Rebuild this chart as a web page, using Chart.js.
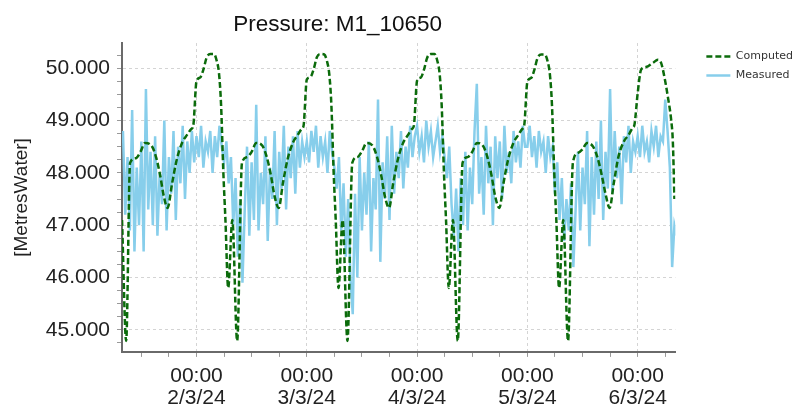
<!DOCTYPE html>
<html>
<head>
<meta charset="utf-8">
<title>Pressure: M1_10650</title>
<script src="https://cdn.jsdelivr.net/npm/chart.js@4.4.1/dist/chart.umd.min.js"></script>
<style>
  html, body { margin: 0; padding: 0; background: #fff; }
  .chart-container { position: relative; width: 803px; height: 407px; }
</style>
</head>
<body>
<div class="chart-container">
  <canvas id="pressureChart"></canvas>
</div>
<script>
const chartTitle = 'Pressure: M1_10650';
const yAxisTitle = '[MetresWater]';
const seriesNames = ['Computed', 'Measured'];

// x values are hours since 1/3/24 00:00
const tickTimeLabel = '00:00';
const tickDayLabels = ['1/3/24', '2/3/24', '3/3/24', '4/3/24', '5/3/24', '6/3/24'];

// Computed (model) pressure
const computedHours = [
  7.8, 8.7, 9.55, 10.8, 11.8, 12.8, 14.2, 15.2, 16.1, 16.9, 17.7, 18.7, 19.7, 20.9, 21.9, 22.9, 23.3,
  24.0, 24.8, 25.5, 26.2, 27.0, 27.8, 28.4, 28.9, 29.35, 29.85, 30.3, 30.9, 31.8, 32.85, 33.9, 35.0, 36.0, 37.0, 38.3, 39.3, 40.2, 41.0, 41.9, 42.8, 43.8, 45.0, 46.0, 46.9, 47.3,
  48.0, 48.8, 49.5, 50.2, 51.0, 51.8, 52.4, 52.9, 53.35, 53.85, 54.3, 54.9, 55.8, 56.85, 57.9, 59.0, 60.0, 61.0, 62.3, 63.3, 64.2, 65.0, 65.9, 66.8, 67.8, 69.0, 70.0, 70.9, 71.3,
  72.0, 72.8, 73.5, 74.2, 75.0, 75.8, 76.4, 76.9, 77.35, 77.85, 78.3, 78.9, 79.8, 80.85, 81.9, 83.0, 84.0, 85.0, 86.3, 87.3, 88.2, 89.0, 89.9, 90.8, 91.8, 93.0, 94.0, 94.9, 95.3,
  96.0, 96.8, 97.5, 98.2, 99.0, 99.8, 100.4, 100.9, 101.35, 101.85, 102.3, 102.9, 103.8, 104.85, 105.9, 107.0, 108.0, 109.0, 110.3, 111.3, 112.2, 113.0, 113.9, 114.8, 115.8, 117.0, 118.0, 118.9, 119.3,
  120.0, 120.75, 121.8, 123.3, 124.4, 125.1, 125.8, 126.55, 127.3, 127.65, 128.0
];
const computedValues = [
  47.10, 44.79, 48.19, 48.28, 48.40, 48.57, 48.52, 48.30, 47.95, 47.55, 47.33, 47.80, 48.25, 48.58, 48.72, 48.84, 48.90,
  49.75, 49.82, 49.97, 50.20, 50.27, 50.27, 50.14, 49.90, 49.30, 48.00, 47.10, 45.80, 47.10, 44.79, 48.19, 48.30, 48.40, 48.57, 48.52, 48.30, 47.95, 47.55, 47.33, 47.80, 48.25, 48.58, 48.72, 48.84, 48.90,
  49.78, 49.83, 49.98, 50.21, 50.27, 50.26, 50.13, 49.88, 49.30, 48.00, 47.10, 45.80, 47.10, 44.79, 48.19, 48.30, 48.41, 48.57, 48.52, 48.30, 47.95, 47.55, 47.33, 47.80, 48.25, 48.58, 48.72, 48.84, 48.90,
  49.76, 49.82, 49.97, 50.20, 50.27, 50.27, 50.14, 49.90, 49.30, 48.00, 47.10, 45.80, 47.10, 44.79, 48.19, 48.30, 48.40, 48.57, 48.52, 48.30, 47.95, 47.55, 47.33, 47.80, 48.25, 48.58, 48.72, 48.84, 48.90,
  49.74, 49.81, 49.96, 50.19, 50.26, 50.26, 50.13, 49.88, 49.30, 48.00, 47.10, 45.80, 47.10, 44.79, 48.19, 48.38, 48.45, 48.57, 48.50, 48.28, 47.95, 47.60, 47.33, 47.80, 48.30, 48.60, 48.72, 48.86, 48.92,
  49.52, 49.97, 50.02, 50.10, 50.16, 50.10, 49.84, 49.46, 49.00, 48.60, 47.50
];

// Measured pressure, one value every 30 minutes from 1/3/24 08:00
const measuredStartHour = 8;
const measuredStepHours = 0.5;
const measuredValues = [
  // 1/3/24 08:00 - 23:30
  48.8, 47.2, 48.3, 46.9, 49.2, 46.5, 48.1, 47.0, 48.6, 46.5, 49.6, 47.3,
  48.4, 47.0, 48.7, 46.8, 48.0, 47.4, 49.0, 46.9, 48.3, 47.6, 48.8, 47.1,
  48.5, 47.8, 48.9, 47.5, 48.6, 48.0, 48.8, 48.2,
  // 2/3/24
  48.7, 48.3, 48.9, 48.1, 48.6, 48.4, 48.8, 48.0, 48.7, 48.3, 48.9, 48.5,
  48.2, 48.6, 47.8, 48.3, 47.0, 47.9, 46.4, 47.5, 45.9, 47.3, 48.5, 46.8,
  48.2, 47.1, 49.3, 46.9, 48.0, 47.4, 48.7, 46.7, 48.1, 47.5, 48.8, 47.0,
  48.4, 47.7, 48.9, 47.3, 48.5, 47.9, 48.7, 47.6, 48.8, 48.1, 48.6, 48.3,
  // 3/3/24
  48.6, 48.2, 48.8, 48.4, 48.9, 48.1, 48.7, 48.3, 48.6, 48.0, 48.8, 48.4,
  48.1, 47.7, 48.3, 46.9, 47.8, 46.4, 47.5, 46.0, 45.3, 47.6, 46.0, 48.3,
  46.9, 48.0, 47.2, 48.6, 46.5, 47.9, 47.3, 49.4, 46.3, 48.2, 47.5, 48.7,
  47.1, 48.9, 47.6, 48.4, 47.9, 48.8, 47.7, 48.5, 48.1, 48.9, 48.3, 48.7,
  // 4/3/24
  48.9, 48.4, 48.7, 48.2, 49.0, 48.5, 48.8, 48.3, 48.6, 48.9, 48.4, 48.7,
  48.3, 47.9, 48.5, 47.4, 46.8, 47.7, 46.5, 47.9, 47.0, 48.4, 46.9, 48.1,
  47.4, 48.8, 49.7, 47.6, 48.3, 47.2, 48.9, 47.8, 48.5, 47.0, 48.7, 47.9,
  48.6, 47.5, 48.9, 48.0, 48.4, 47.8, 48.8, 48.2, 48.6, 48.1, 48.9, 48.5,
  // 5/3/24
  48.5, 48.9, 48.3, 48.7, 48.1, 48.8, 48.4, 48.6, 48.0, 48.7, 48.3, 48.5,
  47.6, 48.2, 47.1, 47.9, 46.7, 47.5, 46.9, 47.8, 46.2, 47.3, 48.4, 46.9,
  48.1, 47.4, 48.8, 46.6, 48.3, 47.2, 48.6, 47.5, 49.0, 47.1, 48.4, 47.7,
  49.6, 47.6, 48.8, 47.9, 48.5, 47.4, 48.7, 48.2, 48.9, 48.0, 48.6, 48.4,
  // 6/3/24 00:00 - 08:30
  48.7, 48.3, 48.9, 48.4, 48.6, 48.2, 48.8, 48.5, 48.9, 48.3, 48.7, 48.6,
  49.4, 48.8, 48.1, 46.2, 47.0, 46.8
];

const isWhole = (v, step) => Math.abs(v / step - Math.round(v / step)) < 1e-6;

const titleLeftOfLegend = {
  id: 'titleLeftOfLegend',
  afterDraw(chart) {
    const ctx = chart.ctx;
    ctx.save();
    ctx.font = '22.5px "Liberation Sans", Arial, sans-serif';
    ctx.fillStyle = '#111';
    ctx.textAlign = 'center';
    ctx.textBaseline = 'middle';
    ctx.fillText(chartTitle, chart.chartArea.right / 2, 25);
    ctx.restore();
  }
};

const ctx = document.getElementById('pressureChart');
new Chart(ctx, {
  type: 'line',
  data: {
    datasets: [
      {
        label: seriesNames[0],
        data: computedHours.map((h, i) => ({ x: h, y: computedValues[i] })),
        borderColor: '#0b6b0b',
        backgroundColor: '#0b6b0b',
        borderWidth: 2.5,
        borderDash: [6, 3],
        pointRadius: 0,
        fill: false,
        cubicInterpolationMode: 'monotone'
      },
      {
        label: seriesNames[1],
        data: measuredValues.map((v, i) => ({ x: measuredStartHour + i * measuredStepHours, y: v })),
        borderColor: '#87ceeb',
        backgroundColor: '#87ceeb',
        borderWidth: 2.5,
        pointRadius: 0,
        fill: false,
        tension: 0
      }
    ]
  },
  options: {
    responsive: true,
    maintainAspectRatio: false,
    animation: false,
    layout: { padding: { top: 43, left: 6, right: 0, bottom: -10 } },
    scales: {
      x: {
        type: 'linear',
        min: 7.8,
        max: 128.2,
        border: { display: true, color: '#6a6a6a', width: 2, dash: [3, 3] },
        grid: {
          color: (c) => (isWhole(c.tick.value, 24) ? '#d4d4d4' : 'rgba(0,0,0,0)'),
          tickColor: '#999',
          tickLength: 5,
          tickBorderDash: []
        },
        ticks: {
          stepSize: 6,
          autoSkip: false,
          includeBounds: false,
          maxRotation: 0,
          padding: 8,
          color: '#222',
          font: { family: '"Liberation Sans", Arial, sans-serif', size: 21, lineHeight: 1.05 },
          callback: (v) => (isWhole(v, 24) ? [tickTimeLabel, tickDayLabels[v / 24]] : '')
        }
      },
      y: {
        min: 44.58,
        max: 50.48,
        border: { display: true, color: '#6a6a6a', width: 2, dash: [3, 3] },
        grid: {
          color: (c) => (isWhole(c.tick.value, 1) ? '#d4d4d4' : 'rgba(0,0,0,0)'),
          tickColor: '#999',
          tickLength: 5,
          tickBorderDash: []
        },
        ticks: {
          stepSize: 0.25,
          autoSkip: false,
          includeBounds: false,
          padding: 7,
          color: '#222',
          font: { family: '"Liberation Sans", Arial, sans-serif', size: 21 },
          callback: (v) => (isWhole(v, 1) ? Number(v).toFixed(3) : '')
        },
        title: {
          display: true,
          text: yAxisTitle,
          color: '#222',
          font: { family: '"Liberation Sans", Arial, sans-serif', size: 19 },
          padding: { top: 4, bottom: 6 }
        }
      },
      gap: {
        position: 'right',
        display: true,
        grid: { display: false, drawTicks: false },
        border: { display: false },
        ticks: { display: false },
        afterFit: (s) => { s.width = 23; }
      }
    },
    plugins: {
      title: { display: false },
      tooltip: { enabled: false },
      legend: {
        display: true,
        position: 'right',
        align: 'start',
        labels: {
          usePointStyle: true,
          pointStyle: 'line',
          pointStyleWidth: 24,
          padding: 8,
          color: '#333',
          font: { family: '"DejaVu Sans", sans-serif', size: 11 },
          generateLabels: (chart) => {
            const items = Chart.defaults.plugins.legend.labels.generateLabels(chart);
            items.forEach((item) => {
              const ds = chart.data.datasets[item.datasetIndex];
              item.lineDash = ds.borderDash || [];
              item.lineWidth = 2.5;
              item.strokeStyle = ds.borderColor;
            });
            return items;
          }
        }
      }
    }
  },
  plugins: [titleLeftOfLegend]
});
</script>
</body>
</html>
